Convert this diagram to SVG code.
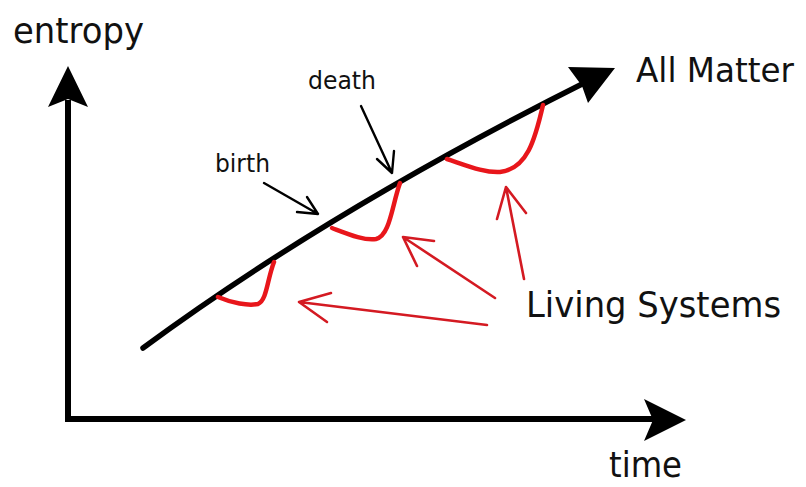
<svg xmlns="http://www.w3.org/2000/svg" width="806" height="487" viewBox="0 0 806 487">
<style>
.t{font-family:"DejaVu Sans","Liberation Sans",sans-serif;fill:#111}
.big{font-size:36px}
.sm{font-size:24px}
.ax{stroke:#000;stroke-width:6;fill:none}
.red{stroke:#e8161b;stroke-width:4.5;fill:none;stroke-linecap:round;stroke-linejoin:round}
.ra{stroke:#d41a22;stroke-width:2.6;fill:none;stroke-linecap:round;stroke-linejoin:round}
.ba{stroke:#000;stroke-width:2.4;fill:none;stroke-linecap:round;stroke-linejoin:round}
</style>
<rect width="806" height="487" fill="#fff"/>
<g id="axes">
<path class="ax" d="M68,100 L68,419 L655,419"/>
<polygon points="68,66 88,107 68,99 48,107" fill="#000"/>
<polygon points="686,420 644,399 653,420 644,441" fill="#000"/>
</g>
<g id="labels">
<text class="t big" x="13" y="43" textLength="131" lengthAdjust="spacingAndGlyphs">entropy</text>
<text class="t big" x="609" y="477" textLength="73" lengthAdjust="spacingAndGlyphs">time</text>
<text class="t" x="636" y="82" font-size="34" textLength="158" lengthAdjust="spacingAndGlyphs">All Matter</text>
<text class="t big" x="526" y="317" textLength="255" lengthAdjust="spacingAndGlyphs">Living Systems</text>
<text class="t sm" x="308" y="89" textLength="68" lengthAdjust="spacingAndGlyphs">death</text>
<text class="t sm" x="215" y="172" textLength="55" lengthAdjust="spacingAndGlyphs">birth</text>
</g>
<g id="matter">
<path d="M143,348 Q330,210 592,79" stroke="#000" stroke-width="5.5" fill="none" stroke-linecap="round"/>
<polygon points="615,68 588,103 582,86 568,67" fill="#000"/>
</g>
<g id="living1">
<path class="red" d="M218,297 C232,303 248,306 258,304 C267,300 267,280 274,262"/>
</g>
<g id="living2">
<path class="red" d="M332,228 C348,234 365,241 376,239 C390,236 392,205 400,183"/>
</g>
<g id="living3">
<path class="red" d="M447,159 C468,166 485,173 500,172 C527,169 535,140 543,105"/>
</g>
<g id="connectors">
<path class="ra" d="M487,325 L299,302 M331,293 L299,302 L327,322"/>
<path class="ra" d="M495,298 L403,237 M434,241 L403,237 L417,266"/>
<path class="ra" d="M524,279 L506,187 M497,219 L506,187 L526,213"/>
<path class="ba" d="M361,106 L392,173 M377,159 L392,173 L394,151"/>
<path class="ba" d="M264,183 L318,214 M297,212 L318,214 L307,197"/>
</g>
</svg>
